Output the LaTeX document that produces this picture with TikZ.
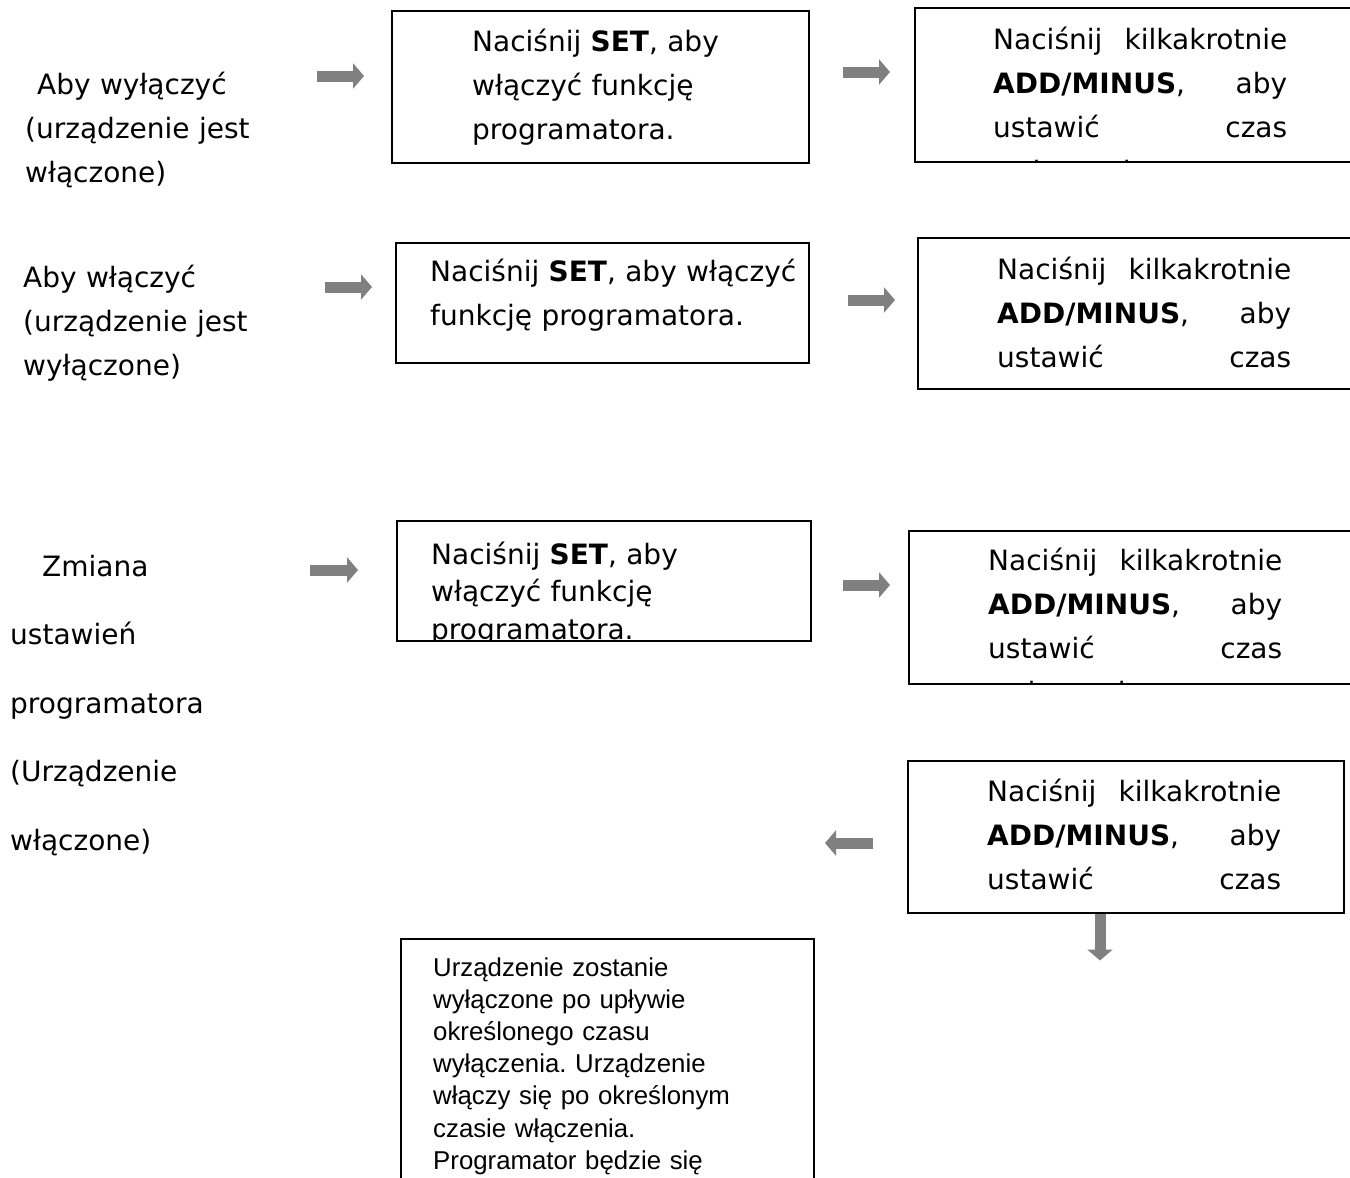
\documentclass[tikz,border=0pt]{standalone}
\usepackage{fontspec}
\setmainfont{DejaVu Sans}
\newfontfamily\arialfont{Liberation Sans}
\usepackage{tikz}
\usetikzlibrary{arrows.meta,positioning}
\definecolor{arrowgray}{RGB}{128,128,128}
\frenchspacing

\begin{document}
\begin{tikzpicture}[x=1pt,y=-1pt,
              box/.style={draw,line width=1.5pt,anchor=north west,inner sep=0pt},
              txt/.style={anchor=base west,inner sep=0pt,align=left,text width=#1,
                  font=\fontsize{28}{44}\selectfont},
              jtxt/.style={txt=294pt,align=justify},
              flow/.style={-{Triangle[length=11pt,width=25pt]},line width=11pt,draw=arrowgray}
            ]
            \useasboundingbox (0,0) rectangle (1350,1178);

            % row 1: switching off
            \node[txt=300pt] (off) at (25,94) {\hspace*{12pt}Aby wyłączyć\\(urządzenie jest\\włączone)};
            \node[box,minimum width=417pt,minimum height=152pt] (b1) at (391,10) {};
            \node[txt=330pt] (t1) at (472,51) {Naciśnij \textbf{SET}, aby\\włączyć funkcję\\programatora.};
            \node[box,minimum width=440pt,minimum height=154pt] (b2) at (914,7) {};
            \begin{scope}
              \clip (b2.north west) rectangle (b2.south east);
              \node[jtxt] (t2) at (993,49) {Naciśnij kilkakrotnie\linebreak
                \textbf{ADD/MINUS}, aby\linebreak ustawić czas\linebreak wyłączenia.};
            \end{scope}

            % row 2: switching on
            \node[txt=300pt] (on) at (23,287) {Aby włączyć\\(urządzenie jest\\wyłączone)};
            \node[box,minimum width=413pt,minimum height=120pt] (b3) at (395,242) {};
            \node[txt=380pt] (t3) at (430,281) {Naciśnij \textbf{SET}, aby włączyć\\funkcję programatora.};
            \node[box,minimum width=436pt,minimum height=151pt] (b4) at (917,237) {};
            \node[jtxt] (t4) at (997,279) {Naciśnij kilkakrotnie\linebreak
              \textbf{ADD/MINUS}, aby\linebreak ustawić\hfill czas};

            % row 3: changing the timer
            \node[txt=300pt,font=\fontsize{28}{68.5}\selectfont] (chg) at (10,576)
              {\hspace*{32pt}Zmiana\\ustawień\\programatora\\(Urządzenie\\włączone)};
            \node[box,minimum width=414pt,minimum height=120pt] (b5) at (396,520) {};
            \begin{scope}
              \clip (b5.north west) rectangle (b5.south east);
              \node[txt=370pt,font=\fontsize{28}{37.5}\selectfont] (t5) at (431,564)
                {Naciśnij \textbf{SET}, aby\\włączyć funkcję\\programatora.};
            \end{scope}
            \node[box,minimum width=445pt,minimum height=153pt] (b6) at (908,530) {};
            \begin{scope}
              \clip (b6.north west) rectangle (b6.south east);
              \node[jtxt] (t6) at (988,570) {Naciśnij kilkakrotnie\linebreak
                \textbf{ADD/MINUS}, aby\linebreak ustawić czas\linebreak wyłączenia.};
            \end{scope}
            \node[box,minimum width=436pt,minimum height=152pt] (b7) at (907,760) {};
            \node[jtxt] (t7) at (987,801) {Naciśnij kilkakrotnie\linebreak
              \textbf{ADD/MINUS}, aby\linebreak ustawić\hfill czas};
            \node[box,minimum width=413pt,minimum height=260pt] (b8) at (400,938) {};
            \node[txt=340pt,font=\arialfont\fontsize{25.8}{32.2}\selectfont] (t8) at (433,976)
              {Urządzenie zostanie\\wyłączone po upływie\\określonego czasu\\wyłączenia. Urządzenie\\włączy się po określonym\\czasie włączenia.\\Programator będzie się};

            % arrows
            \coordinate (a1s) at (317,76);  \coordinate (a1e) at (364,76);
            \coordinate (a2s) at (843,72);  \coordinate (a2e) at (890,72);
            \coordinate (a3s) at (325,287); \coordinate (a3e) at (372,287);
            \coordinate (a4s) at (848,300); \coordinate (a4e) at (895,300);
            \coordinate (a5s) at (310,570); \coordinate (a5e) at (358,570);
            \coordinate (a6s) at (843,585); \coordinate (a6e) at (890,585);
            \coordinate (a7s) at (873,843); \coordinate (a7e) at (825,843);
            \draw[flow] (a1s) -- (a1e);
            \draw[flow] (a2s) -- (a2e);
            \draw[flow] (a3s) -- (a3e);
            \draw[flow] (a4s) -- (a4e);
            \draw[flow] (a5s) -- (a5e);
            \draw[flow] (a6s) -- (a6e);
            \draw[flow] (a7s) -- (a7e);
            \draw[flow] (b7.south -| 1100,0) -- ++(0,47);
          \end{tikzpicture}
\end{document}
